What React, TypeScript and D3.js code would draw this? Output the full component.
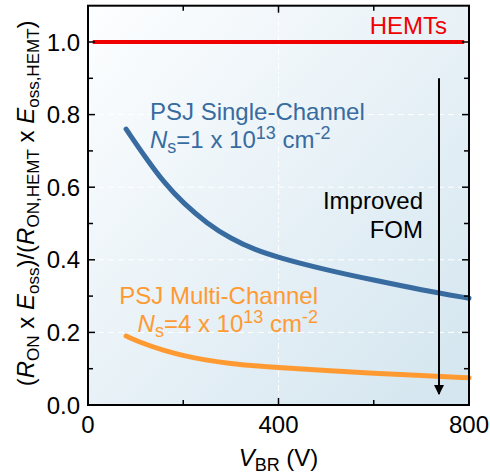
import * as d3 from "d3";

// breakdown voltage (V) and normalized FOM values
const vbr = [80, 120, 160, 200, 250, 300, 350, 400, 500, 600, 700, 800];
const singleChannel = [0.76, 0.683, 0.612, 0.556, 0.5, 0.458, 0.428, 0.406, 0.372, 0.344, 0.317, 0.294];
const multiChannel = [0.19, 0.167, 0.15, 0.136, 0.123, 0.114, 0.108, 0.103, 0.095, 0.087, 0.081, 0.075];
const hemtV = [10, 790];
const hemtVal = [1.0, 1.0];

const xMajor = [0, 400, 800];
const xMinor = [200, 600];
const yMajor = [0, 0.2, 0.4, 0.6, 0.8, 1.0];
const yMinor = [0.1, 0.3, 0.5, 0.7, 0.9];
const yGrid = [0.2, 0.4, 0.6, 0.8];
const xGrid = [400];

const arrowFrom = 0.9;
const arrowTo = 0.03;
const arrowV = 737;

export default function App() {
  const width = 490;
  const height = 476;
  const marginLeft = 88;
  const marginRight = 21;
  const marginTop = 5.7;
  const marginBottom = 71;
  const font = "'Liberation Sans', Arial, sans-serif";

  const x = d3.scaleLinear().domain([0, 800]).range([marginLeft, width - marginRight]);
  const y = d3.scaleLinear().domain([0, 1.1]).range([height - marginBottom, marginTop]);

  const line = d3
    .line<[number, number]>()
    .x((d) => x(d[0]))
    .y((d) => y(d[1]))
    .curve(d3.curveBasis);

  const blue = "#386b9f";
  const orange = "#ff9a33";
  const red = "#f00000";

  const x0 = x(0);
  const x1 = x(800);
  const y0 = y(0);
  const y1 = y(1.1);

  return (
    <svg width={width} height={height} style={{ position: "absolute", left: 0, top: 0 }} fontFamily={font}>
      <defs>
        <linearGradient id="bg" x1="0" y1="0" x2="1" y2="1">
          <stop offset="0%" stopColor="#fdfeff" />
          <stop offset="100%" stopColor="#d3e5ef" />
        </linearGradient>
        <marker id="arrowhead" viewBox="0 0 10 10" refX="9" refY="5" markerWidth="5" markerHeight="5" orient="auto">
          <path d="M0,0 L10,5 L0,10 z" fill="black" />
        </marker>
      </defs>
      <rect x={x0} y={y1} width={x1 - x0} height={y0 - y1} fill="url(#bg)" />

      {/* grid */}
      {yGrid.map((t) => (
        <line key={"gy" + t} x1={x0} x2={x1} y1={y(t)} y2={y(t)} stroke="white" strokeWidth={1} strokeDasharray="6 4" />
      ))}
      {xGrid.map((t) => (
        <line key={"gx" + t} x1={x(t)} x2={x(t)} y1={y0} y2={y1} stroke="white" strokeWidth={1} strokeDasharray="6 3 2 3" />
      ))}

      {/* curves */}
      <path d={line(hemtV.map((v, i) => [v, hemtVal[i]]) as [number, number][]) || ""} stroke={red} strokeWidth={4} fill="none" />
      <path d={line(vbr.map((v, i) => [v, singleChannel[i]]) as [number, number][]) || ""} stroke={blue} strokeWidth={5} fill="none" strokeLinecap="round" />
      <path d={line(vbr.map((v, i) => [v, multiChannel[i]]) as [number, number][]) || ""} stroke={orange} strokeWidth={5} fill="none" strokeLinecap="round" />

      {/* ticks on all four sides, pointing in */}
      {xMajor.concat(xMinor).map((t) => {
        const len = xMajor.includes(t) ? 7 : 5;
        return (
          <g key={"tx" + t}>
            <line x1={x(t)} x2={x(t)} y1={y0} y2={y0 - len} stroke="black" strokeWidth={1.5} />
            <line x1={x(t)} x2={x(t)} y1={y1} y2={y1 + len} stroke="black" strokeWidth={1.5} />
          </g>
        );
      })}
      {yMajor.concat(yMinor).map((t) => {
        const len = yMajor.includes(t) ? 7 : 5;
        return (
          <g key={"ty" + t}>
            <line x1={x0} x2={x0 + len} y1={y(t)} y2={y(t)} stroke="black" strokeWidth={1.5} />
            <line x1={x1} x2={x1 - len} y1={y(t)} y2={y(t)} stroke="black" strokeWidth={1.5} />
          </g>
        );
      })}
      <rect x={x0} y={y1} width={x1 - x0} height={y0 - y1} fill="none" stroke="black" strokeWidth={2} />

      {/* tick labels */}
      {xMajor.map((t) => (
        <text key={"lx" + t} x={x(t)} y={433} textAnchor="middle" fontSize={24} fill="black">
          {t}
        </text>
      ))}
      {yMajor.map((t) => (
        <text key={"ly" + t} x={80} y={y(t)} textAnchor="end" dominantBaseline="central" fontSize={24} fill="black">
          {t.toFixed(1)}
        </text>
      ))}

      {/* axis titles */}
      <text x={(x0 + x1) / 2} y={466} textAnchor="middle" fontSize={24} fill="black">
        <tspan fontStyle="italic">V</tspan>
        <tspan fontSize={18} dy={5}>BR</tspan>
        <tspan dy={-5}> (V)</tspan>
      </text>
      <text transform={`translate(34,${(y0 + y1) / 2 - 2}) rotate(-90)`} textAnchor="middle" fontSize={24} fill="black">
        <tspan>(</tspan>
        <tspan fontStyle="italic">R</tspan>
        <tspan fontSize={17} dy={5}>ON</tspan>
        <tspan dy={-5}> x </tspan>
        <tspan fontStyle="italic">E</tspan>
        <tspan fontSize={17} dy={5}>oss</tspan>
        <tspan dy={-5}>)/(</tspan>
        <tspan fontStyle="italic">R</tspan>
        <tspan fontSize={17} dy={5}>ON,HEMT</tspan>
        <tspan dy={-5}> x </tspan>
        <tspan fontStyle="italic">E</tspan>
        <tspan fontSize={17} dy={5}>oss,HEMT</tspan>
        <tspan dy={-5}>)</tspan>
      </text>

      {/* annotations */}
      <text x={447} y={34} textAnchor="end" fontSize={24} fill={red}>HEMTs</text>

      <text x={150} y={120} fontSize={24} fill={blue}>PSJ Single-Channel</text>
      <text x={150} y={148} fontSize={24} fill={blue}>
        <tspan fontStyle="italic">N</tspan>
        <tspan fontSize={18} dy={5}>s</tspan>
        <tspan dy={-5}>=1 x 10</tspan>
        <tspan fontSize={18} dy={-9}>13</tspan>
        <tspan dy={9}> cm</tspan>
        <tspan fontSize={18} dy={-9}>-2</tspan>
      </text>

      <text x={318} y={304} textAnchor="end" fontSize={24} fill={orange}>PSJ Multi-Channel</text>
      <text x={318} y={332} textAnchor="end" fontSize={24} fill={orange}>
        <tspan fontStyle="italic">N</tspan>
        <tspan fontSize={18} dy={5}>s</tspan>
        <tspan dy={-5}>=4 x 10</tspan>
        <tspan fontSize={18} dy={-9}>13</tspan>
        <tspan dy={9}> cm</tspan>
        <tspan fontSize={18} dy={-9}>-2</tspan>
      </text>

      <text x={423} y={209} textAnchor="end" fontSize={24} fill="black">Improved</text>
      <text x={423} y={238} textAnchor="end" fontSize={24} fill="black">FOM</text>
      <line
        x1={x(arrowV)}
        x2={x(arrowV)}
        y1={y(arrowFrom)}
        y2={y(arrowTo)}
        stroke="black"
        strokeWidth={2}
        markerEnd="url(#arrowhead)"
      />
    </svg>
  );
}
